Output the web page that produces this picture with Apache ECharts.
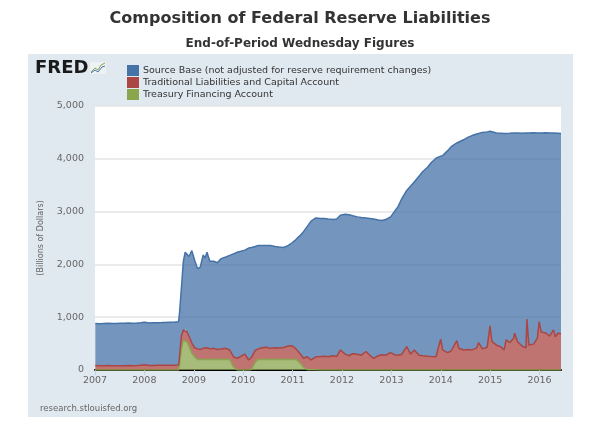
<!DOCTYPE html>
<html>
<head>
<meta charset="utf-8">
<script src="https://cdn.jsdelivr.net/npm/echarts@6/dist/echarts.min.js"></script>
<style>
  html, body { margin: 0; padding: 0; background: #fff; }
  #main { width: 600px; height: 438px; }
</style>
</head>
<body>
<div id="main"></div>
<script>
var dates = [
  '2007-01-03','2007-02-07','2007-03-07','2007-04-11','2007-04-25','2007-05-09','2007-06-06','2007-07-04',
  '2007-08-08','2007-09-05','2007-10-03','2007-11-07','2007-12-05','2008-01-02','2008-02-06','2008-03-05',
  '2008-04-02','2008-05-07','2008-06-04','2008-07-02','2008-08-06','2008-09-10','2008-09-17','2008-10-01',
  '2008-10-15','2008-10-29','2008-11-12','2008-11-26','2008-12-17','2009-01-07','2009-01-28','2009-02-18',
  '2009-03-11','2009-03-25','2009-04-08','2009-04-29','2009-05-27','2009-06-24','2009-07-22','2009-08-26',
  '2009-09-23','2009-10-21','2009-11-18','2009-12-16','2010-01-13','2010-02-10','2010-03-03','2010-03-31',
  '2010-04-21','2010-05-19','2010-06-23','2010-07-21','2010-08-25','2010-09-22','2010-10-27','2010-12-01',
  '2010-12-29','2011-01-26','2011-02-23','2011-03-23','2011-04-20','2011-05-18','2011-06-22','2011-07-27',
  '2011-08-24','2011-09-21','2011-10-26','2011-11-23','2011-12-21','2012-01-25','2012-02-22','2012-03-21',
  '2012-04-25','2012-05-23','2012-06-27','2012-07-25','2012-08-22','2012-09-26','2012-10-24','2012-11-21',
  '2012-12-26','2013-01-23','2013-02-20','2013-03-20','2013-04-24','2013-05-22','2013-06-19','2013-07-24',
  '2013-08-21','2013-09-25','2013-10-23','2013-11-27','2013-12-31','2014-01-15','2014-02-19','2014-03-19',
  '2014-04-30','2014-05-14','2014-06-18','2014-07-23','2014-08-20','2014-09-24','2014-10-08','2014-11-05',
  '2014-12-10','2014-12-31','2015-01-14','2015-02-18','2015-03-18','2015-04-15','2015-04-29','2015-05-27',
  '2015-06-24','2015-07-01','2015-07-22','2015-08-26','2015-09-23','2015-09-30','2015-10-14','2015-11-18',
  '2015-12-16','2015-12-30','2016-01-13','2016-02-17','2016-03-16','2016-04-13','2016-04-27','2016-05-18',
  '2016-06-08'
];

var treasury = [
  0,0,0,0,0,0,0,0, 0,0,0,0,0,0,0,0,
  0,0,0,0,0,0,100,400, 560,560,530,450,320,250,200,200,
  200,200,200,200,200,200,200,200, 200,60,0,0,0,0,10,150,
  200,200,200,200,200,200,200,200, 200,200,140,50,5,5,5,0,
  0,0,0,0,0,0,0,0, 0,0,0,0,0,0,0,0,
  0,0,0,0,0,0,0,0, 0,0,0,0,0,0,0,0,
  0,0,0,0,0,0,0,0, 0,0,0,0,0,0,0,0,
  0,0,0,0,0,0,0,0, 0,0,0,0,0,0,0,0,
  0
];

var traditional = [
  85,80,82,85,115,80,80,82, 80,85,82,85,88,98,85,86,
  90,88,90,92,90,95,160,250, 200,210,190,190,190,170,200,190,
  210,200,220,200,210,190,200,210, 180,190,220,260,300,190,230,220,
  200,220,230,210,220,215,225,255, 260,200,177,172,245,185,245,255,
  260,250,270,255,380,300,270,310, 300,280,350,280,220,270,290,280,
  330,290,280,300,445,300,380,280, 270,260,255,253,583,380,330,360,
  557,412,380,390,380,420,520,400, 430,836,538,470,443,380,570,520,
  600,697,540,450,420,963,475,490, 600,918,720,700,640,760,630,700,
  680
];

var sourceBase = [
  795,798,800,800,790,802,800,804, 804,803,803,805,807,807,805,807,
  806,810,810,813,815,820,820,900, 1290,1460,1480,1510,1750,1660,1520,1560,
  1770,1720,1810,1660,1650,1640,1710,1730, 1790,1950,2010,1990,1970,2120,2080,1970,
  1960,1940,1930,1950,1920,1915,1895,1905, 1950,2070,2223,2398,2470,2630,2630,2615,
  2610,2610,2580,2605,2550,2650,2670,2610, 2600,2610,2530,2590,2640,2570,2540,2570,
  2570,2710,2820,2950,2955,3180,3180,3390, 3490,3580,3675,3757,3467,3680,3820,3870,
  3743,3898,3980,4020,4060,4050,3970,4100, 4080,3684,3962,4020,4042,4100,3920,3965,
  3890,3798,3950,4035,4070,3532,4015,4005, 3890,3577,3770,3795,3850,3730,3855,3785,
  3800
];

var yTicks = [0, 1000, 2000, 3000, 4000, 5000];

function pairs(vals) {
  return dates.map(function (d, i) { return [d, vals[i]]; });
}

var font = 'DejaVu Sans';
var myChart = echarts.init(document.getElementById('main'));

var option = {
  animation: false,
  backgroundColor: '#fff',
  textStyle: { fontFamily: font },
  title: [
    {
      text: 'Composition of Federal Reserve Liabilities',
      left: 'center', top: 6,
      textStyle: { fontFamily: font, fontSize: 16, fontWeight: 'bold', color: '#333' }
    },
    {
      text: 'End-of-Period Wednesday Figures',
      left: 'center', top: 33,
      textStyle: { fontFamily: font, fontSize: 12, fontWeight: 'bold', color: '#333' }
    }
  ],
  graphic: [
    { type: 'rect', z: -10, shape: { x: 28, y: 54, width: 545, height: 363 }, style: { fill: '#e0e8f0' } },
    { type: 'text', left: 35, top: 59, style: { text: 'FRED', font: '900 18px "DejaVu Sans"', fill: '#1a1a1a' } },
    { type: 'rect', shape: { x: 90, y: 62, width: 16, height: 12 }, style: { fill: '#eef2f4' } },
    { type: 'polyline', shape: { points: [[91,72],[95,68],[98,70],[101,65],[105,63]] }, style: { stroke: '#89a54e', lineWidth: 1, fill: null } },
    { type: 'polyline', shape: { points: [[91,73],[95,70],[98,72],[102,67],[105,66]] }, style: { stroke: '#4572a7', lineWidth: 1, fill: null } },
    { type: 'text', left: 40, top: 404, style: { text: 'research.stlouisfed.org', font: '8.5px "DejaVu Sans"', fill: '#666' } }
  ],
  legend: {
    orient: 'vertical',
    left: 122, top: 60,
    itemWidth: 12, itemHeight: 11, itemGap: 1,
    icon: 'rect',
    data: ['Source Base (not adjusted for reserve requirement changes)',
           'Traditional Liabilities and Capital Account',
           'Treasury Financing Account'],
    textStyle: { fontFamily: font, fontSize: 9.5, color: '#333', padding: [0, 0, 0, -1] }
  },
  grid: { left: 95, right: 39, top: 106, bottom: 68, show: true, backgroundColor: '#fff', borderWidth: 0 },
  xAxis: {
    type: 'time',
    min: '2007-01-01',
    max: dates[dates.length - 1],
    minInterval: 365 * 24 * 3600 * 1000,
    maxInterval: 366 * 24 * 3600 * 1000,
    axisLine: { lineStyle: { color: '#000', width: 2 } },
    axisTick: { show: true, length: 5, lineStyle: { color: '#c0d0e0' } },
    axisLabel: { formatter: '{yyyy}', color: '#666', fontSize: 9.5, fontFamily: font, showMaxLabel: false, margin: 6 },
    splitLine: { show: false }
  },
  yAxis: {
    type: 'value',
    min: yTicks[0], max: yTicks[yTicks.length - 1], interval: 1000,
    name: '(Billions of Dollars)',
    nameLocation: 'middle', nameRotate: 90, nameGap: 50,
    nameTextStyle: { color: '#666', fontSize: 8, fontFamily: font },
    axisLine: { show: false },
    axisTick: { show: false },
    axisLabel: { color: '#666', fontSize: 9.5, fontFamily: font, margin: 11 },
    splitLine: { lineStyle: { color: '#e4e4e4', width: 1.5 } }
  },
  series: [
    {
      name: 'Treasury Financing Account',
      type: 'line', stack: 'total', symbol: 'none',
      data: pairs(treasury),
      itemStyle: { color: '#89a54e' },
      lineStyle: { color: '#89a54e', width: 1.5 },
      areaStyle: { color: '#89a54e', opacity: 0.75 }
    },
    {
      name: 'Traditional Liabilities and Capital Account',
      type: 'line', stack: 'total', symbol: 'none',
      data: pairs(traditional),
      itemStyle: { color: '#aa4643' },
      lineStyle: { color: '#aa4643', width: 1.5 },
      areaStyle: { color: '#aa4643', opacity: 0.75 }
    },
    {
      name: 'Source Base (not adjusted for reserve requirement changes)',
      type: 'line', stack: 'total', symbol: 'none',
      data: pairs(sourceBase),
      itemStyle: { color: '#4572a7' },
      lineStyle: { color: '#4572a7', width: 1.5 },
      areaStyle: { color: '#4572a7', opacity: 0.75 }
    }
  ]
};

myChart.setOption(option);
</script>
</body>
</html>
